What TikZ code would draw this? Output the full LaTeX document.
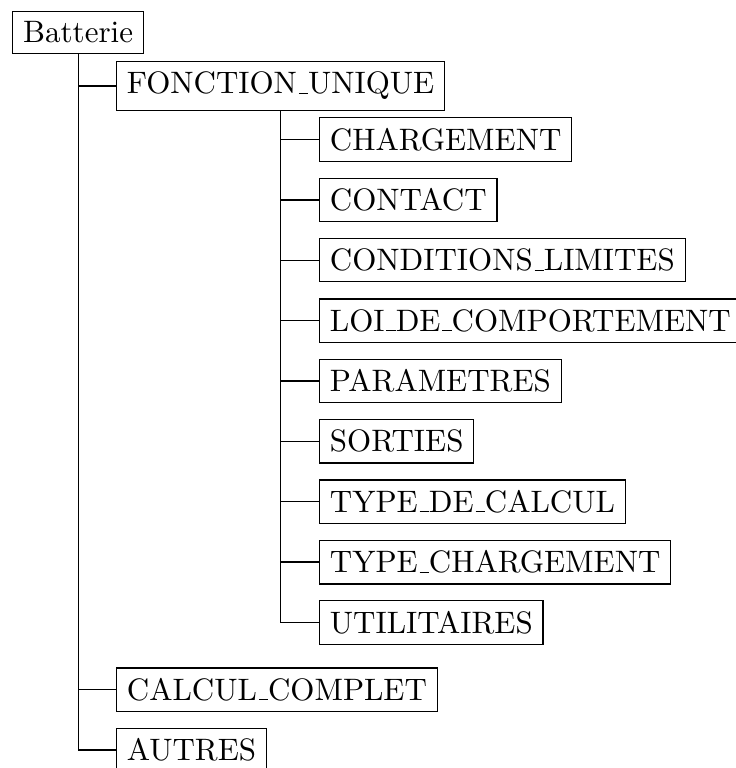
\documentclass[tikz,border=0pt]{standalone}
\usepackage{tikz}
\usetikzlibrary{positioning,calc}
% short underscore sitting on the baseline
\newcommand\usc{\leavevmode\kern.06em\vbox{\hrule width.3em}}

\begin{document}
\begin{tikzpicture}[dossier/.style={draw,anchor=west,inner sep=0.3333em},
                    branche/.style={draw=black}]
\def\dy{0.6845}
\useasboundingbox (0,0) rectangle (8.334,-8.708);
\node [dossier] (batt) at (0.139,-0.368) {Batterie};
\node [dossier] (fonc) at (1.315,-0.975) {FONCTION\usc UNIQUE};
\foreach \name/\txt [count=\i from 0] in
  {charg/CHARGEMENT, contact/CONTACT, cl/CONDITIONS\usc LIMITES,
   loi/LOI\usc DE\usc COMPORTEMENT, param/PARAMETRES, sorties/SORTIES,
   tcalc/TYPE\usc DE\usc CALCUL, tcharg/TYPE\usc CHARGEMENT,
   util/UTILITAIRES}
  \node [dossier] (\name) at (3.617,{-1.582-\i*\dy}) {\txt};
\node [dossier] (complet) at (1.315,{-0.975-10*\dy}) {CALCUL\usc COMPLET};
\node [dossier] (autres) at (1.315,{-0.975-11*\dy}) {AUTRES};
\foreach \name in {charg,contact,cl,loi,param,sorties,tcalc,tcharg,util}
  \draw [branche] (fonc.south) |- (\name.west);
\foreach \name in {fonc,complet,autres}
  \draw [branche] (batt.south) |- (\name.west);
\end{tikzpicture}
\end{document}
